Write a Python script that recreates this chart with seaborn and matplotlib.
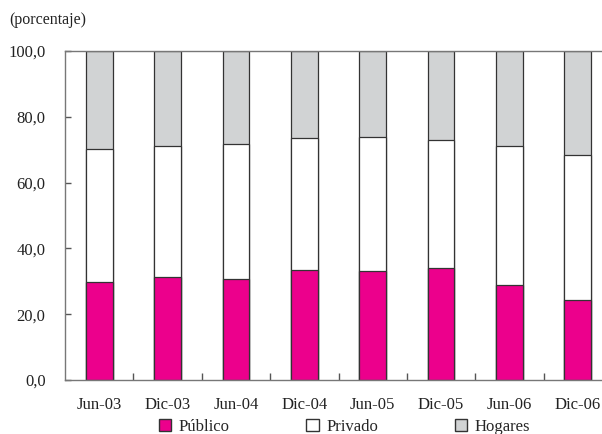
import matplotlib
matplotlib.use("Agg")
import matplotlib.pyplot as plt
import seaborn as sns
import pandas as pd
from matplotlib.patches import Patch
from matplotlib.ticker import FuncFormatter

periodos = ["Jun-03", "Dic-03", "Jun-04", "Dic-04", "Jun-05", "Dic-05", "Jun-06", "Dic-06"]
publico = [29.8, 31.3, 30.8, 33.3, 33.1, 33.9, 28.9, 24.3]
privado = [40.3, 39.8, 40.9, 40.3, 40.7, 39.2, 42.2, 44.2]
hogares = [29.9, 28.9, 28.3, 26.4, 26.2, 26.9, 28.9, 31.5]

col_pub = "#EC008C"
col_priv = "#FFFFFF"
col_hog = "#D1D3D4"

sns.set_style("white")
plt.rcParams["font.family"] = ["Liberation Serif", "DejaVu Serif"]

df = pd.DataFrame({"periodo": periodos, "publico": publico,
                   "privado": privado, "hogares": hogares})
df["cum_priv"] = df["publico"] + df["privado"]
df["cum_hog"] = df["cum_priv"] + df["hogares"]

fig = plt.figure(figsize=(6.02, 4.34), dpi=100)
ax = fig.add_axes([65 / 602, 1 - 380 / 434, (612 - 65) / 602, (380 - 51) / 434])

bar_kw = dict(width=0.39, edgecolor="#333333", linewidth=0.9, ax=ax,
              order=periodos, saturation=1)
sns.barplot(data=df, x="periodo", y="cum_hog", color=col_hog, **bar_kw)
sns.barplot(data=df, x="periodo", y="cum_priv", color=col_priv, **bar_kw)
sns.barplot(data=df, x="periodo", y="publico", color=col_pub, **bar_kw)

ax.set_ylim(0, 100)
ax.set_xlim(-0.5, len(periodos) - 0.5)
ax.set_yticks([0, 20, 40, 60, 80, 100])
ax.yaxis.set_major_formatter(FuncFormatter(lambda v, p: f"{v:.1f}".replace(".", ",")))
ax.set_xticks([i + 0.5 for i in range(len(periodos) - 1)], minor=True)
ax.set_xticks(range(len(periodos)))
ax.set_xticklabels(periodos)
ax.tick_params(axis="x", which="major", length=0, pad=12, labelsize=12, colors="#222222")
ax.tick_params(axis="x", which="minor", direction="in", length=5, width=1, color="#555555")
ax.tick_params(axis="y", direction="in", length=4, width=1, color="#555555",
               labelsize=12, colors="#222222", pad=14)
ax.tick_params(axis="y", left=True)
ax.tick_params(axis="x", which="minor", bottom=True)
ax.set_xlabel("")
ax.set_ylabel("")
for s in ax.spines.values():
    s.set_color("#777777")
    s.set_linewidth(1.0)
    s.set_visible(True)

fig.text(9 / 602, 1 - 20 / 434, "(porcentaje)", fontsize=11.5, color="#222222", va="center")

handles = [Patch(facecolor=col_pub, edgecolor="#333333", label="Público"),
           Patch(facecolor=col_priv, edgecolor="#333333", label="Privado"),
           Patch(facecolor=col_hog, edgecolor="#333333", label="Hogares")]
fig.legend(handles=handles, loc="center left", bbox_to_anchor=(152 / 602, 1 - 427 / 434),
           ncol=3, frameon=False, fontsize=12, handlelength=0.75, handleheight=0.75,
           columnspacing=4.6, handletextpad=0.45, borderaxespad=0)

fig.savefig("out.png", dpi=100)
